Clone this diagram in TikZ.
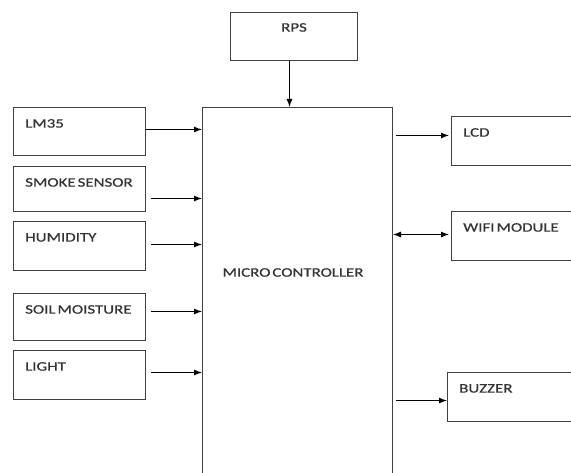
\documentclass[tikz,border=0pt]{standalone}
\usepackage{fontspec}
\setmainfont{Carlito}[FakeStretch=1.3,FakeBold=0.6]
\usetikzlibrary{arrows.meta,calc}
\newcommand{\lblfont}{\fontsize{13}{16}\selectfont\spaceskip=2pt\relax}
\tikzset{>={Latex[length=8pt,width=6pt]}}
\tikzset{
  blk/.style={draw=black!75,line width=1pt,minimum width=132pt,minimum height=48pt,inner sep=0pt,anchor=north west},
  txt/.style={anchor=north west,inner sep=0pt,text=black!80,font=\lblfont},
  lnk/.style={->,line width=1pt}
}

\begin{document}
\begin{tikzpicture}[x=1pt,y=-1pt]
    \useasboundingbox (0,0) rectangle (571,473);
    \clip (0,0) rectangle (571,473);

    \node[blk,minimum width=127pt] (rps) at (230,12) {};
    \node[txt,anchor=north,yshift=-11pt] at (rps.north) {RPS};
    \node[blk,minimum width=190pt,minimum height=400pt] (mc) at (202,107) {};
    \node[txt,anchor=center,xshift=-4.5pt,yshift=-165.5pt] at (mc.north) {MICRO CONTROLLER};

    % sensors on the left
    \node[blk,label={[txt,xshift=12pt,yshift=-12pt]north west:LM35}] (lm35) at (13,107) {};
    \node[blk,minimum height=45pt,label={[txt,xshift=12pt,yshift=-12pt]north west:SMOKE SENSOR}] (smoke) at (13,166) {};
    \node[blk,minimum height=49pt,label={[txt,xshift=12pt,yshift=-12pt]north west:HUMIDITY}] (hum) at (13,221) {};
    \node[blk,minimum height=47pt,label={[txt,xshift=12pt,yshift=-12pt]north west:SOIL MOISTURE}] (soil) at (13,293) {};
    \node[blk,minimum height=49pt,label={[txt,xshift=12pt,yshift=-12pt]north west:LIGHT}] (light) at (13,350) {};

    % outputs on the right
    \node[blk,minimum width=140pt,minimum height=49pt,label={[txt,xshift=12pt,yshift=-12pt]north west:LCD}] (lcd) at (451,116) {};
    \node[blk,minimum width=140pt,minimum height=49pt,label={[txt,xshift=12pt,yshift=-12pt]north west:WIFI MODULE}] (wifi) at (451,211) {};
    \node[blk,minimum width=140pt,minimum height=49pt,label={[txt,xshift=12pt,yshift=-12pt]north west:BUZZER}] (buzz) at (447,372) {};

    \draw[lnk] ([xshift=-4.5pt]rps.south) -- ([xshift=-4.5pt]rps.south |- mc.north);

    \draw[lnk] ([yshift=2pt]lm35.east) -- ([yshift=2pt]lm35.east -| mc.west);
    \draw[lnk] ([xshift=5pt,yshift=-9.5pt]smoke.east) -- ([yshift=-9.5pt]smoke.east -| mc.west);
    \draw[lnk] ([xshift=5pt,yshift=1.5pt]hum.east) -- ([yshift=1.5pt]hum.east -| mc.west);
    \draw[lnk] ([xshift=5pt,yshift=5.5pt]soil.east) -- ([yshift=5.5pt]soil.east -| mc.west);
    \draw[lnk] ([xshift=5pt,yshift=2.5pt]light.east) -- ([yshift=2.5pt]light.east -| mc.west);

    \draw[lnk] ([xshift=3pt,yshift=5.5pt]lcd.west -| mc.east) -- ([xshift=-2pt,yshift=5.5pt]lcd.west);
    \draw[lnk,<->] ([yshift=1.5pt]wifi.west -| mc.east) -- ([xshift=-2pt,yshift=1.5pt]wifi.west);
    \draw[lnk] ([xshift=3pt,yshift=-3.5pt]buzz.west -| mc.east) -- ([yshift=-3.5pt]buzz.west);
\end{tikzpicture}
\end{document}
